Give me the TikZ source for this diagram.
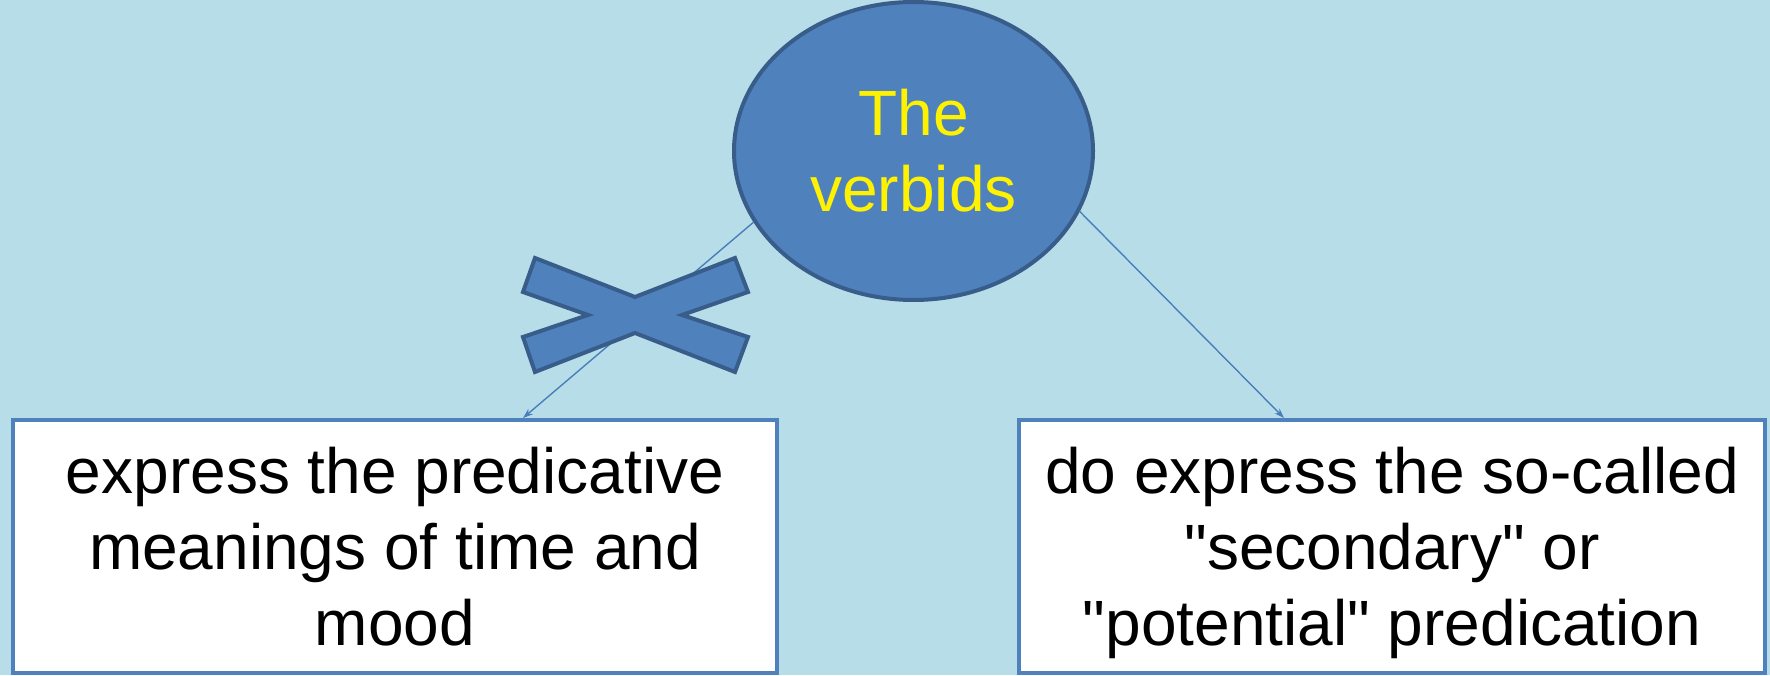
\documentclass[tikz,border=0pt]{standalone}
\usepackage{fontspec}
% plain straight quotes, no TeX-style quote mapping
\setmainfont{Liberation Sans}[Ligatures=TeXOff]
\usetikzlibrary{arrows.meta,shapes.geometric}

\definecolor{bgblue}{HTML}{B7DEE8}
\definecolor{accent}{HTML}{4F81BD}
\definecolor{accentdark}{HTML}{385D8A}
\definecolor{linkblue}{HTML}{4A7EBB}

\tikzset{
  bigtext/.style={font=\fontsize{64}{76}\selectfont, align=center},
  hub/.style={ellipse, draw=accentdark, fill=accent, line width=4pt,
    minimum width=359pt, minimum height=298pt, inner sep=0pt,
    bigtext, text=yellow},
  textbox/.style={rectangle, draw=accent, fill=white, line width=4pt,
    inner sep=0pt, bigtext, text=black, text depth=0pt},
  link/.style={draw=linkblue, line width=1.4pt,
    -{Stealth[length=10pt,width=7pt]}},
  crossmark/.style={fill=accent, draw=accentdark, line width=4pt, line join=miter}
}

\begin{document}
\begin{tikzpicture}[x=1pt,y=1pt]
  % canvas
  \fill[bgblue] (0,0) rectangle (1770,675);
  \useasboundingbox (0,0) rectangle (1770,675);

  % central ellipse
  \node[hub] (verb) at (913.5,524) {The\\verbids};

  % two statement boxes
  \node[textbox, minimum width=764pt, minimum height=253pt] (lbox) at (395,128.5)
    {express the predicative\\meanings of time and\\mood};
  \node[textbox, minimum width=746pt, minimum height=253pt] (rbox) at (1392,128.5)
    {do express the so-called\\"secondary" or\\"potential" predication};

  % connectors
  \draw[link] (verb.204) -- ([xshift=512pt]lbox.north west);
  \draw[link] (verb.340) -- ([xshift=267pt]rbox.north west);

  % cross striking out the left branch
  \path[crossmark] (535,417) -- (523,383) -- (588,360) -- (523,338) -- (535,303)
    -- (635,342) -- (735,303) -- (748,338) -- (682,360) -- (748,383)
    -- (735,417) -- (635,378) -- cycle;
\end{tikzpicture}
\end{document}
